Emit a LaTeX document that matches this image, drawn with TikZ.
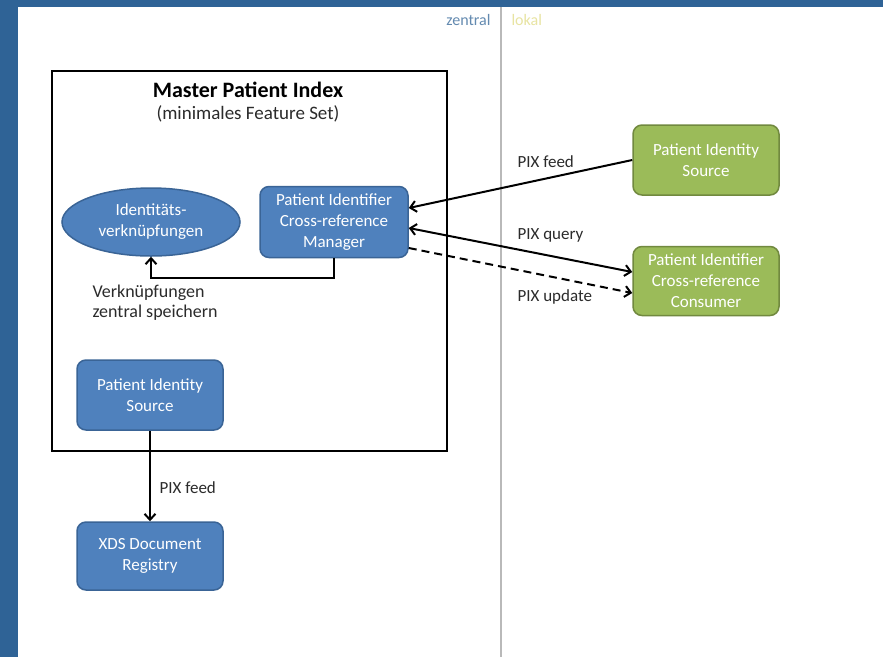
\documentclass[tikz,border=0pt]{standalone}
\usepackage{fontspec}
\setmainfont{Carlito}
\usetikzlibrary{shapes.geometric,arrows.meta}

\definecolor{frameblue}{HTML}{2F6396}
\definecolor{boxblue}{HTML}{4F81BD}
\definecolor{boxblueline}{HTML}{3A6496}
\definecolor{boxgreen}{HTML}{9BBB59}
\definecolor{boxgreenline}{HTML}{71893F}
\definecolor{labelgray}{HTML}{2B2B2B}

\tikzset{
  actor/.style={draw=boxblueline, fill=boxblue, rounded corners=9pt, line width=1.5pt,
    text=white, align=center, font=\fontsize{17}{21}\selectfont,
    minimum width=146pt, minimum height=70pt},
  lokalactor/.style={actor, draw=boxgreenline, fill=boxgreen},
  link/.style={line width=2pt, -{Straight Barb[length=6pt,width=11pt]}},
  msg/.style={anchor=west, text=labelgray, font=\fontsize{17}{20}\selectfont, align=left}
}

\begin{document}
\begin{tikzpicture}[x=1pt,y=-1pt]
    \useasboundingbox (0,0) rectangle (883,657);
    \fill[frameblue] (0,0) rectangle (883,657);
    \fill[white] (18,7) rectangle (883,657);
    \draw[gray!55, line width=1.5pt] (501,7) -- (501,657);
    \node[anchor=east, text=frameblue!75, font=\fontsize{16}{18}\selectfont] (zentral) at (494,20) {zentral};
    \node[anchor=west, text=yellow!30!olive!30, font=\fontsize{16}{18}\selectfont] (lokal) at (508,20) {lokal};

    % Master Patient Index
    \node[draw, line width=2pt, minimum width=395pt, minimum height=380pt] (mpi) at (249.5,261) {};
    \node[font=\fontsize{22}{24}\selectfont\bfseries] (mpititle) at (248,90) {Master Patient Index};
    \node[font=\fontsize{19}{20}\selectfont, text=labelgray] (mpisub) at (248,114) {(minimales Feature Set)};

    \node[ellipse, fill=boxblue, draw=boxblueline, line width=1.5pt, text=white, align=center,
      font=\fontsize{17}{21}\selectfont, minimum width=178pt, minimum height=68pt, inner sep=0pt]
      (ids) at (151,222) {Identitäts-\\verknüpfungen};
    \node[actor, minimum width=148pt, minimum height=71pt] (pixm) at (334,222) {Patient Identifier\\Cross-reference\\Manager};
    \node[actor] (pis) at (150,395) {Patient Identity\\Source};
    \node[actor, minimum height=68pt] (xds) at (150,556) {XDS Document\\Registry};

    % lokal
    \node[lokalactor] (gpis) at (706,160) {Patient Identity\\Source};
    \node[lokalactor, minimum height=69pt] (pixc) at (706,281) {Patient Identifier\\Cross-reference\\Consumer};

    % connectors
    \coordinate (bend) at (151,278);
    \draw[link] (pixm.south) |- (bend) -- (ids.south);
    \node[msg, font=\fontsize{18}{20}\selectfont] (store) at (89,303) {Verknüpfungen\\zentral speichern};

    \draw[link] (pis) -- (xds);
    \node[msg] (feedxds) at (156,488) {PIX feed};

    \draw[link] (gpis.west) -- ([yshift=14pt]pixm.east);
    \node[msg] (feed) at (514,162) {PIX feed};
    \draw[link, {Straight Barb[length=6pt,width=11pt]}-{Straight Barb[length=6pt,width=11pt]}]
      ([yshift=-6pt]pixm.east) -- ([yshift=9pt]pixc.west);
    \node[msg] (query) at (514,235) {PIX query};
    \draw[link, dashed, dash pattern=on 8pt off 5pt] ([yshift=-26pt]pixm.east) -- ([yshift=-12pt]pixc.west);
    \node[msg] (update) at (514,297) {PIX update};
\end{tikzpicture}
\end{document}
